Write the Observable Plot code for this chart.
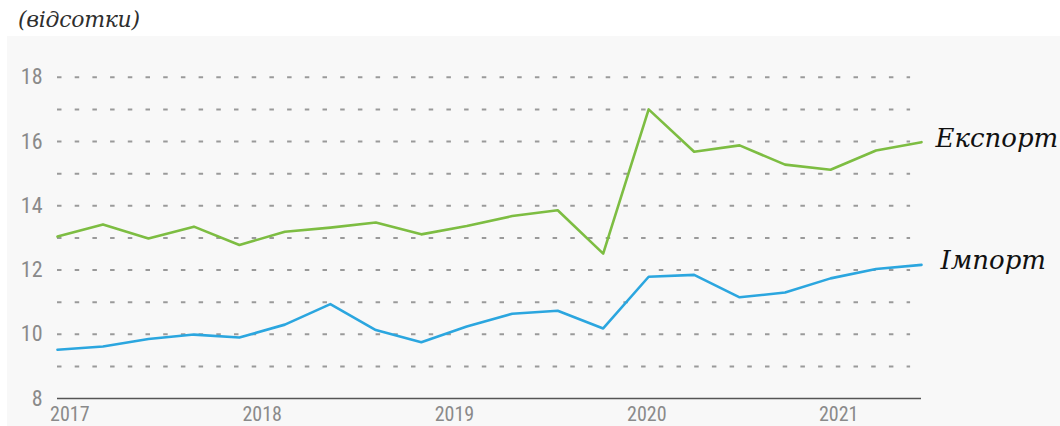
<!DOCTYPE html>
<html><head><meta charset="utf-8">
<script src="https://cdn.jsdelivr.net/npm/d3@7"></script>
<script src="https://cdn.jsdelivr.net/npm/@observablehq/plot@0.6"></script>
<style>
body{margin:0;background:#fff;width:1060px;height:426px;overflow:hidden;position:relative;}
#title{position:absolute;left:18px;top:7px;font:italic 22px "DejaVu Serif",serif;color:#2e2e2e;white-space:nowrap;letter-spacing:-0.3px;}
#panel{position:absolute;left:7px;top:36px;width:1053px;height:390px;background:#f8f8f8;overflow:hidden;}
</style></head><body>
<div id="title">(відсотки)</div>
<div id="panel"></div>
<script>
const quarters = ["2017Q1","2017Q2","2017Q3","2017Q4","2018Q1","2018Q2","2018Q3","2018Q4",
  "2019Q1","2019Q2","2019Q3","2019Q4","2020Q1","2020Q2","2020Q3","2020Q4",
  "2021Q1","2021Q2","2021Q3","2021Q4"];
const exportVals = [13.04, 13.42, 12.98, 13.35, 12.78, 13.19, 13.32, 13.48, 13.11, 13.37,
  13.68, 13.86, 12.51, 17.0, 15.68, 15.88, 15.28, 15.12, 15.72, 15.98];
const importVals = [9.52, 9.62, 9.85, 9.99, 9.90, 10.30, 10.94, 10.13, 9.75, 10.24,
  10.64, 10.73, 10.18, 11.79, 11.85, 11.15, 11.30, 11.74, 12.03, 12.16];
const seriesNames = ["Експорт", "Імпорт"];
const yTickLabels = [8, 10, 12, 14, 16, 18];
const gridValues = [9, 10, 11, 12, 13, 14, 15, 16, 17, 18];
const yearLabels = ["2017", "2018", "2019", "2020", "2021"];
const yearTicks = [0.27, 4.5, 8.73, 12.96, 17.18];

const rows = [];
quarters.forEach((q, i) => {
  rows.push({i, series: seriesNames[0], value: exportVals[i]});
  rows.push({i, series: seriesNames[1], value: importVals[i]});
});
const last = rows.filter(d => d.i === quarters.length - 1);
const colors = {"Експорт": "#7dbd42", "Імпорт": "#2ba6df"};
const numFont = '"Roboto Condensed","Liberation Sans Narrow","DejaVu Sans Condensed",Roboto,sans-serif';
const labelFont = {textAnchor: "start", dy: -4, fill: "#111", fontSize: 26, fontStyle: "italic", fontFamily: '"DejaVu Serif",serif'};

const chart = Plot.plot({
  width: 1053, height: 390,
  marginLeft: 50, marginRight: 139, marginTop: 40.8, marginBottom: 28,
  style: {background: "transparent", overflow: "visible"},
  x: {domain: [0, quarters.length - 1], axis: null},
  y: {domain: [8, 18], axis: null},
  marks: [
    Plot.ruleY(gridValues, {x1: 0, x2: 18.76, stroke: "#9a9a9a", strokeWidth: 2, strokeDasharray: "4.5,13.2"}),
    Plot.ruleY([8], {x1: 0, x2: quarters.length - 1, stroke: "#555", strokeWidth: 1.3}),
    Plot.text(yTickLabels, {x: 0, y: d => d, text: d => String(d), textAnchor: "end", dx: -15,
      fill: "#8a8a8a", fontSize: 22, fontFamily: numFont}),
    Plot.text(yearLabels, {x: (d, i) => yearTicks[i], y: 8, text: d => d, dy: 16.5,
      fill: "#8a8a8a", fontSize: 20, fontFamily: numFont}),
    Plot.line(rows, {x: "i", y: "value", z: "series", stroke: d => colors[d.series], strokeWidth: 2.6}),
    Plot.text(last.filter(d => d.series === seriesNames[0]), {x: "i", y: "value", text: "series", dx: 14, ...labelFont}),
    Plot.text(last.filter(d => d.series === seriesNames[1]), {x: "i", y: "value", text: "series", dx: 19, ...labelFont})
  ]
});
document.getElementById("panel").appendChild(chart);
</script>
</body></html>
